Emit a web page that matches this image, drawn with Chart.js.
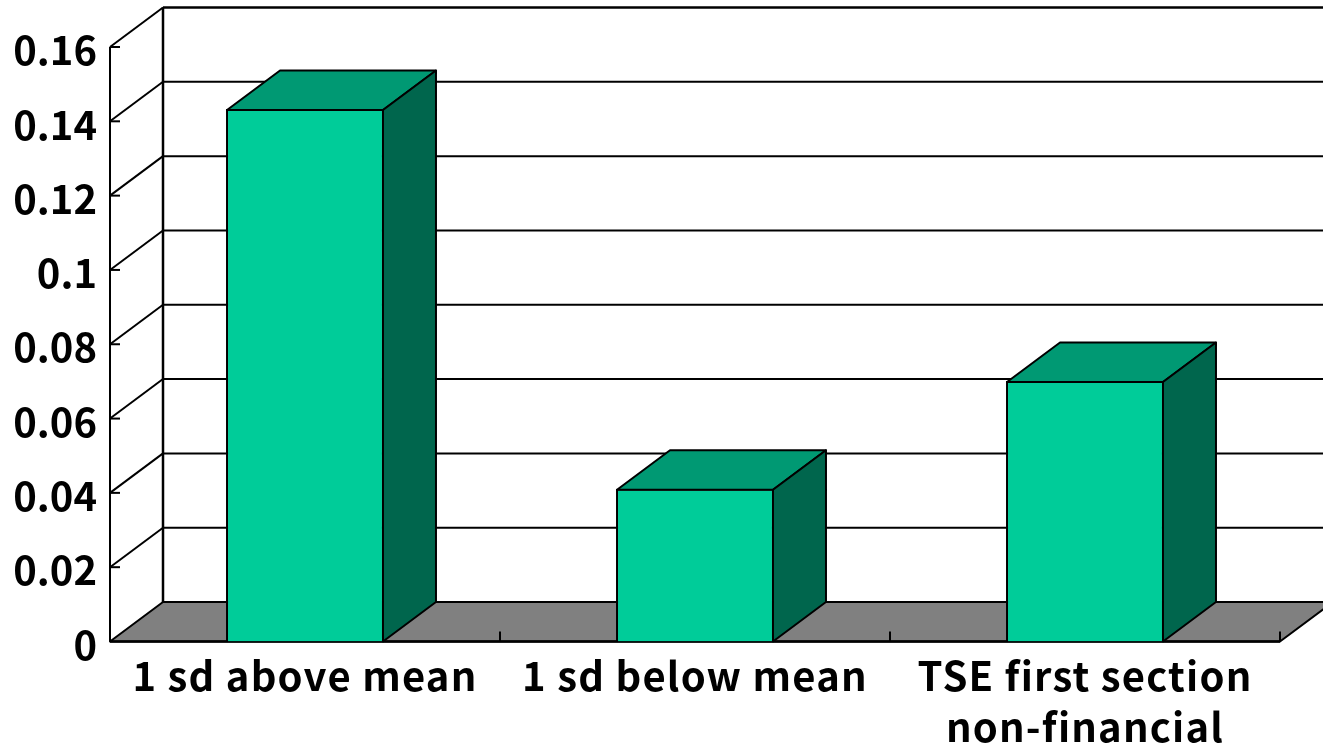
<!DOCTYPE html>
<html><head><meta charset="utf-8">
<style>html,body{margin:0;padding:0;background:#fff;overflow:hidden}canvas{display:block}</style>
<script src="https://cdn.jsdelivr.net/npm/chart.js@4"></script>
</head><body>
<canvas id="c" width="1323" height="746"></canvas>
<script>
const categories = ["1 sd above mean", "1 sd below mean", ["TSE first section", "non-financial"]];
const values = [0.1433, 0.0411, 0.0701];
const yTickValues = [0, 0.02, 0.04, 0.06, 0.08, 0.1, 0.12, 0.14, 0.16];

const DX = 53, DY = 39.5;
const FLOOR = '#808080', FRONT = '#00CC99', TOP = '#009973', SIDE = '#00664D';

function seg(ctx, x1, y1, x2, y2, w) {
  ctx.lineWidth = w;
  ctx.beginPath(); ctx.moveTo(x1, y1); ctx.lineTo(x2, y2); ctx.stroke();
}
function poly(ctx, pts, fill) {
  ctx.beginPath();
  pts.forEach((p, i) => i ? ctx.lineTo(p[0], p[1]) : ctx.moveTo(p[0], p[1]));
  ctx.closePath();
  ctx.fillStyle = fill; ctx.fill();
  ctx.lineWidth = 2; ctx.strokeStyle = '#000'; ctx.lineJoin = 'round'; ctx.stroke();
}

const box3d = {
  id: 'box3d',
  beforeDraw(chart) {
    const { ctx, scales: { x, y } } = chart;
    const L = x.left, R = x.right, B = y.getPixelForValue(0), T = y.getPixelForValue(0.16);
    ctx.save();
    ctx.strokeStyle = '#000';
    poly(ctx, [[L, B], [L + DX, B - DY], [R + DX, B - DY], [R, B]], FLOOR);
    yTickValues.forEach(v => {
      const p = y.getPixelForValue(v);
      if (v > 0 && v < 0.16) seg(ctx, L + DX, p - DY, R + DX, p - DY, 2);
      if (v > 0 && v < 0.16) seg(ctx, L, p, L + DX, p - DY, 2);
      if (v > 0) seg(ctx, L, p, L + 10, p, 2);
    });
    seg(ctx, L, T, L + DX, T - DY, 2);
    seg(ctx, L + DX, T - DY, R + DX, T - DY, 2.5);
    seg(ctx, L + DX, T - DY, L + DX, B - DY, 2.5);
    seg(ctx, L, T, L, B, 2);
    seg(ctx, L, B, R, B, 2.5);
    [1, 2, 3].forEach(i => {
      const px = L + (R - L) * i / categories.length;
      seg(ctx, px, B, px, B - 10, 2);
    });
    ctx.restore();
  },
  afterDatasetsDraw(chart) {
    const { ctx } = chart;
    ctx.save();
    chart.getDatasetMeta(0).data.forEach(bar => {
      const l = bar.x - bar.width / 2 + 1, r = bar.x + bar.width / 2 - 1, t = bar.y + 1, b = bar.base;
      poly(ctx, [[l, t], [l + DX, t - DY], [r + DX, t - DY], [r, t]], TOP);
      poly(ctx, [[r, t], [r + DX, t - DY], [r + DX, b - DY], [r, b]], SIDE);
    });
    ctx.restore();
    ctx.letterSpacing = '1.2px'; // category labels (drawn after the bars) are slightly spaced
  }
};

new Chart(document.getElementById('c'), {
  type: 'bar',
  plugins: [box3d],
  data: {
    labels: categories,
    datasets: [{
      data: values,
      backgroundColor: FRONT,
      borderColor: '#000',
      borderWidth: 2,
      barPercentage: 0.405,
      categoryPercentage: 1
    }]
  },
  options: {
    responsive: false,
    animation: false,
    layout: { padding: { top: 47, right: 43, left: 0, bottom: 0 } },
    plugins: { legend: { display: false }, tooltip: { enabled: false }, title: { display: false } },
    scales: {
      x: {
        grid: { display: false },
        border: { display: false },
        afterFit(s) { s.height = 104.5; },
        ticks: {
          z: 1,
          color: '#000', maxRotation: 0, minRotation: 0, autoSkip: false, padding: 1,
          font: { family: '"Noto Sans CJK JP"', size: 40, weight: '700', lineHeight: 1.27 }
        }
      },
      y: {
        min: 0, max: 0.16,
        grid: { display: false, drawTicks: false },
        border: { display: false },
        afterFit(s) { s.width = 110; },
        afterBuildTicks(s) { s.ticks = yTickValues.map(v => ({ value: v })); },
        ticks: {
          color: '#000', padding: 13, labelOffset: 3,
          callback: v => String(v),
          font: { family: '"Noto Sans CJK JP"', size: 40, weight: '700' }
        }
      }
    }
  }
});
</script>
</body></html>
